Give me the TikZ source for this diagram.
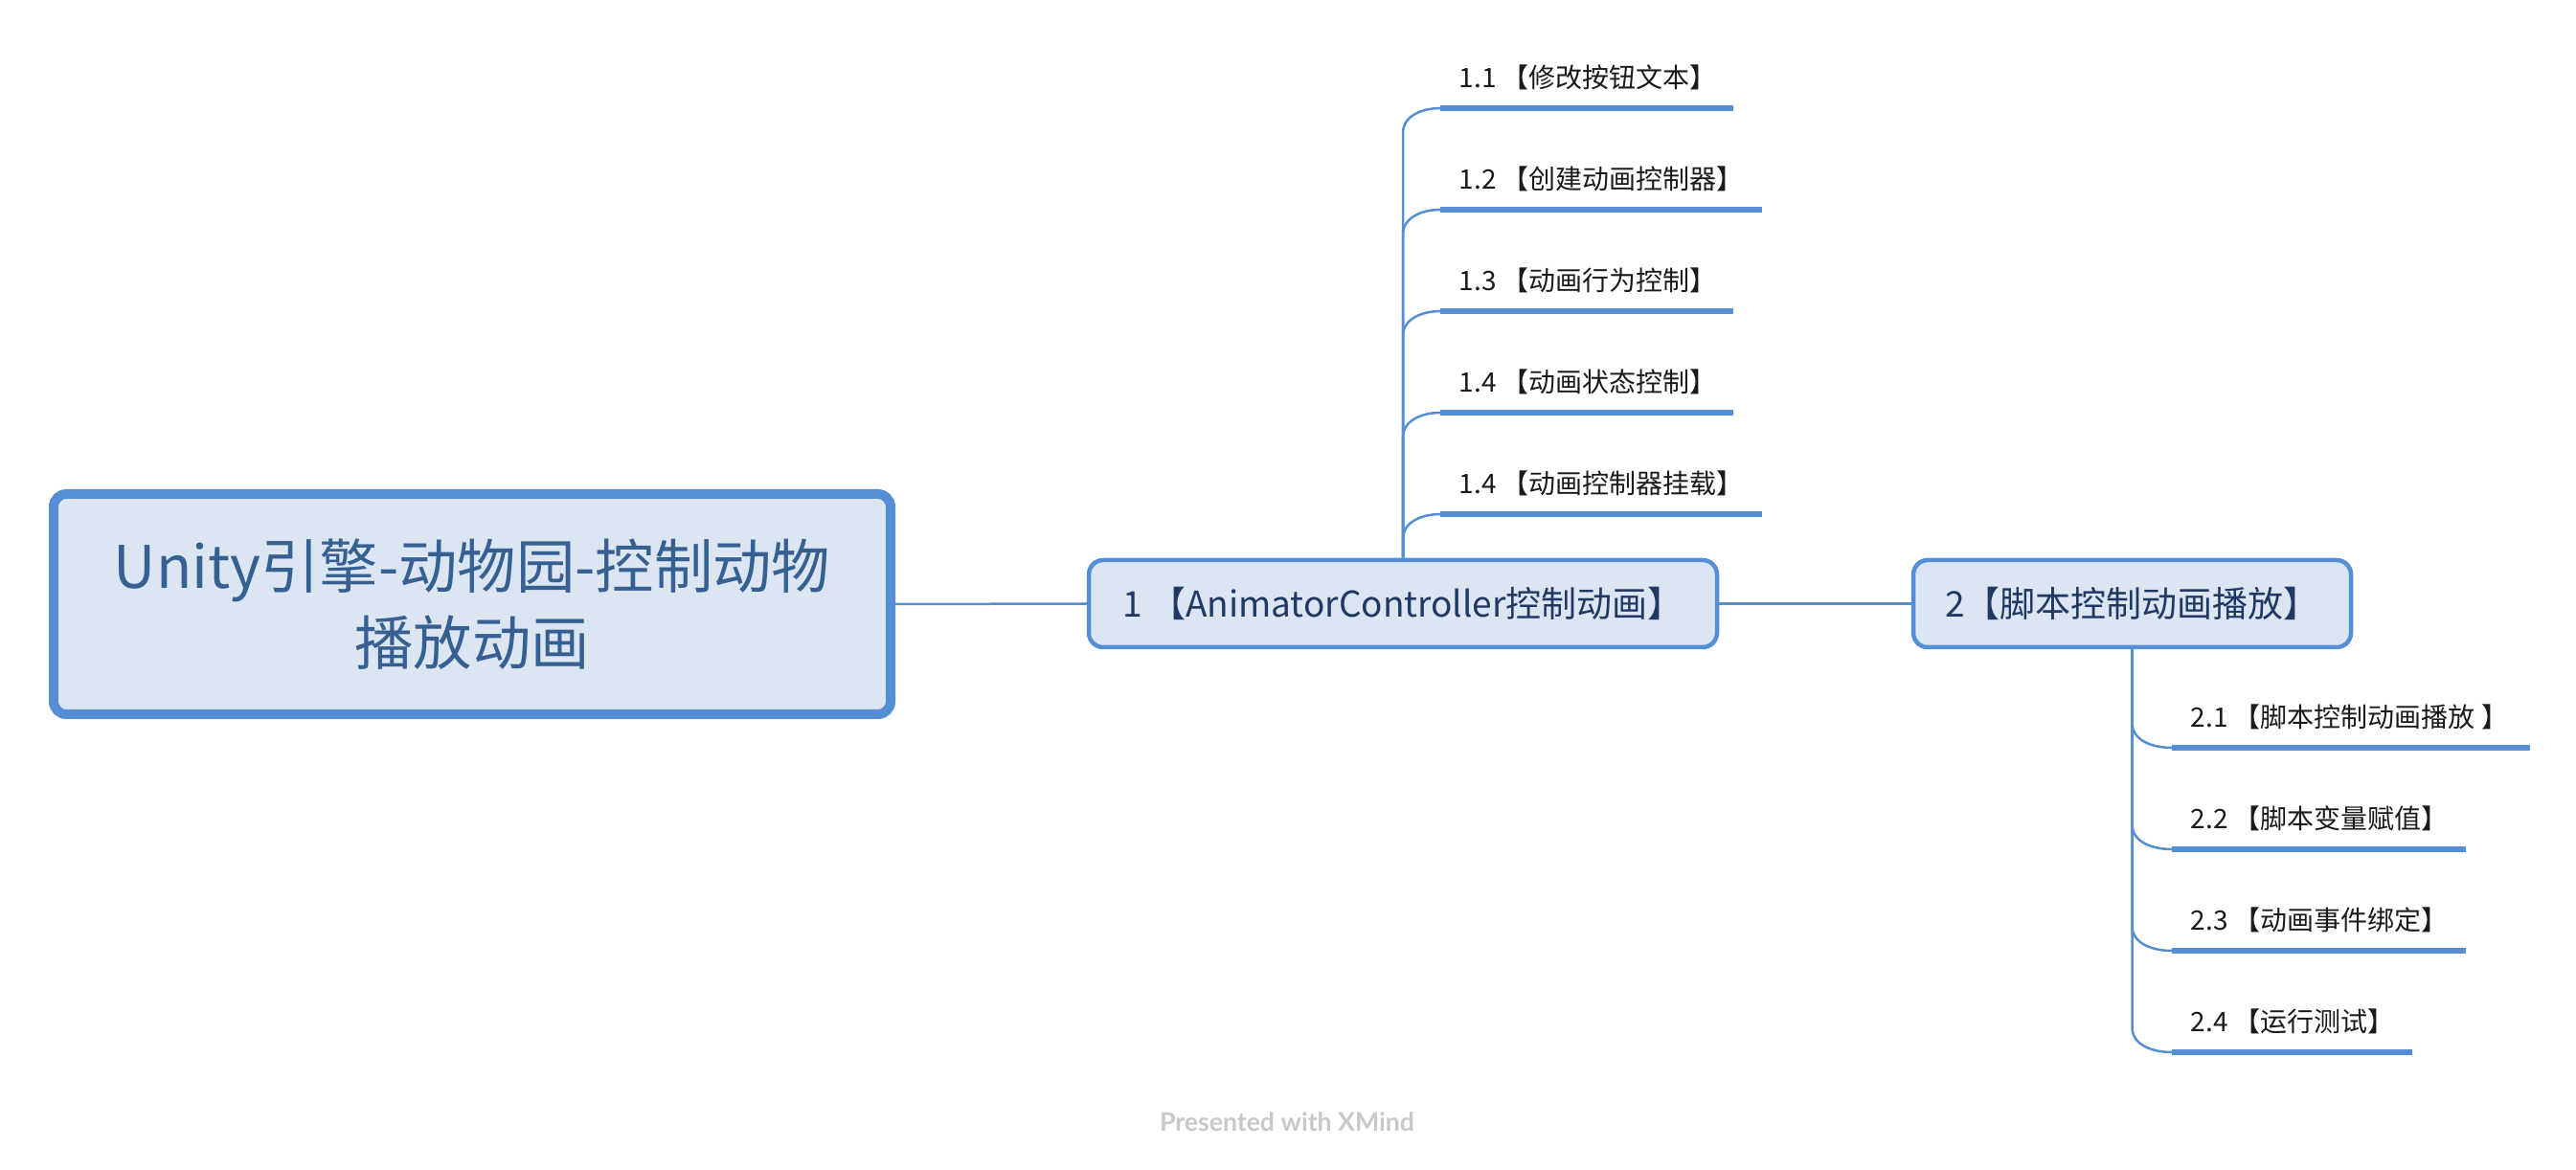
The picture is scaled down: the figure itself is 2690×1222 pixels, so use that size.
\documentclass[tikz,border=0pt]{standalone}
\usepackage{fontspec}
\newfontfamily\cjk{Noto Sans CJK SC}
\newfontfamily\wm{Lato}
\usetikzlibrary{calc}
\definecolor{xblue}{HTML}{558ED5}
\definecolor{xfill}{HTML}{DCE6F2}
\definecolor{roottext}{HTML}{376092}
\definecolor{maintext}{HTML}{1F3864}
\definecolor{subcol}{HTML}{1A1A1A}
\definecolor{wmark}{HTML}{C8C8C8}
\begin{document}
\begin{tikzpicture}[x=0.3pt,y=-0.3pt,
  conn/.style={draw=xblue, line width=0.75pt},
  uline/.style={draw=xblue, line width=1.65pt},
  roottopic/.style={draw=xblue, fill=xfill, line width=3pt, rounded corners=4pt,
    minimum width=262.2pt, minimum height=69pt, inner sep=0pt, align=center,
    font=\cjk\fontsize{18.4pt}{24pt}\selectfont, text=roottext},
  maintopic/.style={draw=xblue, fill=xfill, line width=1.35pt, rounded corners=4.5pt,
    minimum height=27.3pt, inner sep=0pt,
    font=\cjk\fontsize{11.1pt}{13pt}\selectfont, text=maintext},
  subtext/.style={anchor=west, inner sep=0pt,
    font=\cjk\fontsize{8.4pt}{10pt}\selectfont, text=subcol}]
\useasboundingbox (0,0) rectangle (2690,1222);
\fill[white] (0,0) rectangle (2690,1222);

\node[roottopic] (root) at (493,631) {Unity引擎-动物园-控制动物\\播放动画};
\node[maintopic, minimum width=196.8pt] (n1) at (1465,630.5) {1 【AnimatorController控制动画】};
\node[maintopic, minimum width=137.1pt] (n2) at (2226.5,630.5) {2【脚本控制动画播放】};

\draw[conn] (root.east) -- (n1.west);
\draw[conn] (n1.east) -- (n2.west);

% subtopics of 1
\foreach \i/\u/\e/\t in {1/113/1810/{1.1 【修改按钮文本】},
                         2/219/1840/{1.2 【创建动画控制器】},
                         3/325/1810/{1.3 【动画行为控制】},
                         4/431/1810/{1.4 【动画状态控制】},
                         5/537/1840/{1.4 【动画控制器挂载】}}{
  \coordinate (a1\i) at (1504,\u);
  \coordinate (b1\i) at (\e,\u);
  \node[subtext] (t1\i) at (1523,\u-32) {\t};
  \draw[uline] (a1\i) -- (b1\i);
  \draw[conn] (n1.north) -- ($(n1.north |- a1\i)+(0,26)$) to[out=90,in=180] (a1\i);
}

% subtopics of 2
\foreach \i/\u/\e/\t in {1/781/2642/{2.1 【脚本控制动画播放 】},
                         2/887/2575/{2.2 【脚本变量赋值】},
                         3/993/2575/{2.3 【动画事件绑定】},
                         4/1099/2519/{2.4 【运行测试】}}{
  \coordinate (a2\i) at (2268,\u);
  \coordinate (b2\i) at (\e,\u);
  \node[subtext] (t2\i) at (2287,\u-32) {\t};
  \draw[uline] (a2\i) -- (b2\i);
  \draw[conn] (n2.south) -- ($(n2.south |- a2\i)+(0,-26)$) to[out=-90,in=180] (a2\i);
}

\node[inner sep=0pt, font=\wm\bfseries\fontsize{8pt}{10pt}\selectfont, text=wmark] (wm) at (1344,1172) {Presented with XMind};
\end{tikzpicture}
\end{document}
